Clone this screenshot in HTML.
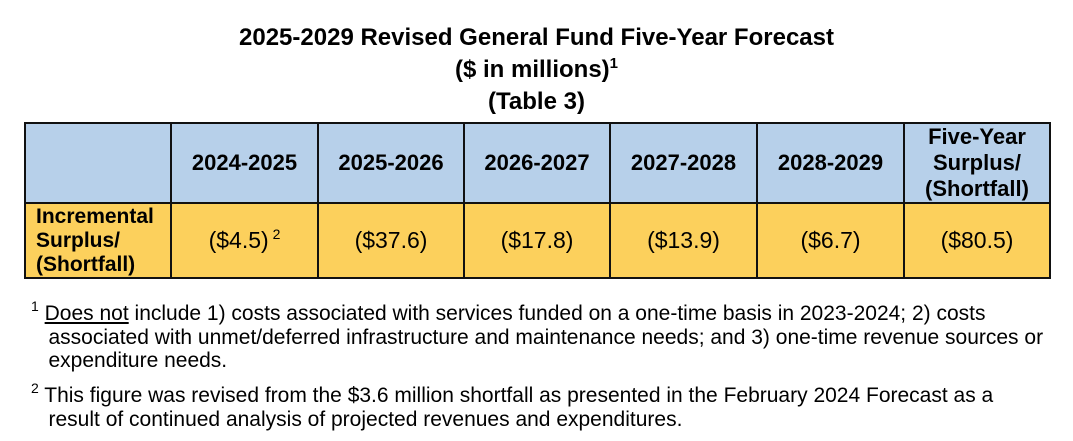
<!DOCTYPE html>
<html><head><meta charset="utf-8"><style>
body{margin:0;width:1073px;height:441px;background:#fff;font-family:"Liberation Sans",Arial,sans-serif;position:relative;overflow:hidden}
.t{position:absolute;left:0;width:1073px;text-align:center;font-weight:bold;font-size:24px;color:#000;line-height:28px}
.t sup{font-size:15px;line-height:0;vertical-align:9px}
table{position:absolute;left:24px;top:122px;border-collapse:collapse;table-layout:fixed}
td{border:2px solid #111;text-align:center;padding:0;font-size:23px}
tr.h td{background:#b7d0ea;height:78px;font-weight:bold;line-height:26px;font-size:22px}
tr.v td{background:#fcd05c;height:73px}
td.lab{font-weight:bold;text-align:left;padding-left:10px;line-height:24px;font-size:21px}
td sup{font-size:14px;line-height:0;vertical-align:9px}
.f{position:absolute;left:31px;font-size:21px;line-height:23.5px;color:#000;width:1040px;white-space:nowrap}
.f sup{font-size:14px;line-height:0;vertical-align:9px}
</style></head><body>
<div class="t" style="top:24px">2025-2029 Revised General Fund Five-Year Forecast</div>
<div class="t" style="top:56px">($ in millions)<sup>1</sup></div>
<div class="t" style="top:88px">(Table 3)</div>
<table>
<colgroup><col style="width:146px"><col style="width:147px"><col style="width:146px"><col style="width:146px"><col style="width:147px"><col style="width:147px"><col style="width:146px"></colgroup>
<tr class="h">
<td></td>
<td>2024-2025</td>
<td>2025-2026</td>
<td>2026-2027</td>
<td>2027-2028</td>
<td>2028-2029</td>
<td>Five-Year<br>Surplus/<br>(Shortfall)</td>
</tr>
<tr class="v">
<td class="lab">Incremental<br>Surplus/<br>(Shortfall)</td>
<td>($4.5)<sup> 2</sup></td>
<td>($37.6)</td>
<td>($17.8)</td>
<td>($13.9)</td>
<td>($6.7)</td>
<td>($80.5)</td>
</tr>
</table>
<div class="f" style="top:302px"><sup>1</sup> <u>Does not</u> include 1) costs associated with services funded on a one-time basis in 2023-2024; 2) costs<br>&nbsp;&nbsp;&nbsp;associated with unmet/deferred infrastructure and maintenance needs; and 3) one-time revenue sources or<br>&nbsp;&nbsp;&nbsp;expenditure needs.</div>
<div class="f" style="top:384px"><sup>2</sup> This figure was revised from the $3.6 million shortfall as presented in the February 2024 Forecast as a<br>&nbsp;&nbsp;&nbsp;result of continued analysis of projected revenues and expenditures.</div>
</body></html>
